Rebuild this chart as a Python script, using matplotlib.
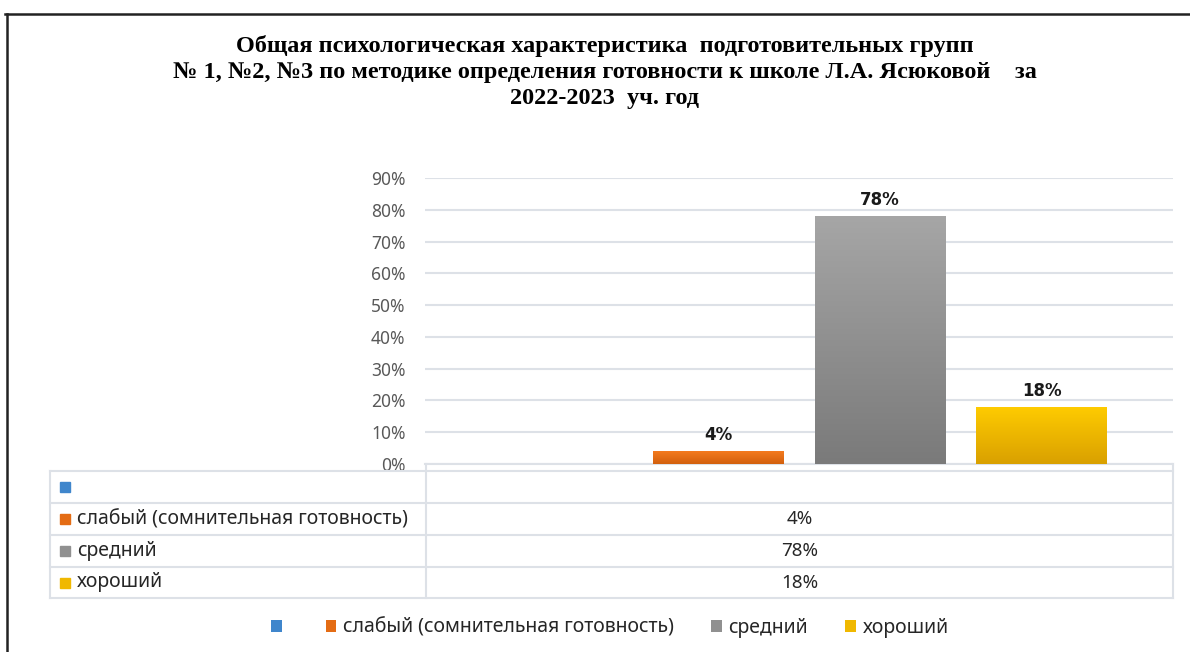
import numpy as np
import matplotlib
matplotlib.use('Agg')
import matplotlib.pyplot as plt
from matplotlib.patches import Patch
from matplotlib.lines import Line2D
from matplotlib.colors import LinearSegmentedColormap

plt.rcParams['font.family'] = ['Noto Sans', 'DejaVu Sans']

# данные
series = ['', 'слабый (сомнительная готовность)', 'средний', 'хороший']
values = [None, 0.04, 0.78, 0.18]
value_labels = ['', '4%', '78%', '18%']
yticks = [0, 0.1, 0.2, 0.3, 0.4, 0.5, 0.6, 0.7, 0.8, 0.9]
title = ('Общая психологическая характеристика  подготовительных групп\n'
         '№ 1, №2, №3 по методике определения готовности к школе Л.А. Ясюковой    за\n'
         '2022-2023  уч. год')

# цвета: верх / низ градиента
top_colors = ['#5b9bd5', '#f47a1f', '#a6a6a6', '#ffcc00']
bottom_colors = ['#2e75b6', '#d2600d', '#7a7a7a', '#d9a000']
solid_colors = ['#3f86cc', '#e46c14', '#909090', '#f0b800']

W, H = 1190, 652
fig = plt.figure(figsize=(W / 100, H / 100), dpi=100)

def fx(px):
    return px / W

def fy(py):
    return 1 - py / H

# рамка (верх и левый край)
fig.add_artist(Line2D([fx(5), fx(1190)], [fy(14), fy(14)], color='#222222', lw=1.8, transform=fig.transFigure))
fig.add_artist(Line2D([fx(7), fx(7)], [fy(14), fy(652)], color='#222222', lw=1.8, transform=fig.transFigure))

fig.text(fx(605), fy(72), title, ha='center', va='center', fontsize=17.5, fontweight='bold',
         family='Liberation Serif', linespacing=1.3, color='black')

ax = fig.add_axes([fx(425), fy(464), fx(1173) - fx(425), fy(178) - fy(464)])
step = 0.2165
width = 0.175
for i, v in enumerate(values):
    if v is None:
        continue
    xpos = (i - 1.5) * step
    bar = ax.bar(xpos, v, width=width, color='none', edgecolor='none', zorder=3)[0]
    cmap = LinearSegmentedColormap.from_list('g%d' % i, [bottom_colors[i], top_colors[i]])
    grad = np.linspace(0, 1, 256).reshape(-1, 1)
    im = ax.imshow(grad, extent=[xpos - width / 2, xpos + width / 2, 0, v], origin='lower',
                   cmap=cmap, aspect='auto', zorder=3)
    im.set_clip_path(bar)
    ax.annotate(value_labels[i], (xpos, v), xytext=(0, 5), textcoords='offset points',
                ha='center', va='bottom', fontsize=12, fontweight='bold',
                family='DejaVu Sans', color='#1a1a1a')

ax.set_xlim(-0.5, 0.5)
ax.set_ylim(0, 0.9)
ax.set_yticks(yticks)
ax.set_yticklabels(['%d%%' % round(t * 100) for t in yticks])
ax.tick_params(axis='y', length=0, pad=14, labelsize=12.5, labelcolor='#595959')
ax.set_xticks([])
ax.grid(axis='y', color='#dde1e7', lw=1.5, zorder=0)
ax.set_axisbelow(True)
for s in ['top', 'right', 'left']:
    ax.spines[s].set_visible(False)
ax.spines['bottom'].set_color('#dde1e7')
ax.spines['bottom'].set_linewidth(1.5)

# таблица данных
line_kw = dict(color='#dde1e7', lw=1.5, transform=fig.transFigure)
row_y = [471, 503, 535, 567, 598]
tx0, tx1, tcol = 50, 1173, 426
for y in row_y:
    fig.add_artist(Line2D([fx(tx0), fx(tx1)], [fy(y), fy(y)], **line_kw))
fig.add_artist(Line2D([fx(tx0), fx(tx0)], [fy(471), fy(598)], **line_kw))
fig.add_artist(Line2D([fx(tx1), fx(tx1)], [fy(464), fy(598)], **line_kw))
fig.add_artist(Line2D([fx(tcol), fx(tcol)], [fy(464), fy(598)], **line_kw))

for i, name in enumerate(series):
    yc = (row_y[i] + row_y[i + 1]) / 2
    fig.patches.append(plt.Rectangle((fx(60), fy(yc + 5)), fx(10), 10 / H, color=solid_colors[i],
                                     transform=fig.transFigure, figure=fig))
    fig.text(fx(77), fy(yc), name, ha='left', va='center', fontsize=14, color='#262626')
    fig.text(fx((tcol + tx1) / 2), fy(yc), value_labels[i], ha='center', va='center',
             fontsize=13.5, color='#262626')

# легенда
handles = [Patch(facecolor=c, edgecolor='none') for c in solid_colors]
fig.legend(handles, series, loc='center', bbox_to_anchor=(fx(610), fy(628)), ncol=4,
           frameon=False, fontsize=14, handlelength=0.55, handleheight=0.55,
           handletextpad=0.35, columnspacing=1.9, labelcolor='#262626')

fig.savefig('out.png', dpi=100)
